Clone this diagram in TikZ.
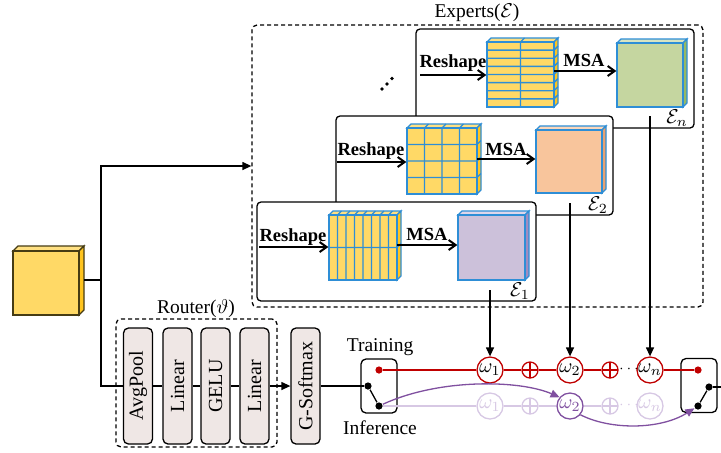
\documentclass[tikz,border=0pt]{standalone}
\usepackage{fontspec}
\setmainfont{Liberation Serif}
\usetikzlibrary{arrows.meta,fit,calc}
\definecolor{cyel}{RGB}{255,217,102}
\definecolor{cyelside}{RGB}{255,196,30}
\definecolor{cyeltop}{RGB}{255,224,130}
\definecolor{cblue}{RGB}{46,142,214}
\definecolor{cgreen}{RGB}{197,214,160}
\definecolor{cgreenside}{RGB}{150,185,100}
\definecolor{cgreentop}{RGB}{215,228,195}
\definecolor{corange}{RGB}{248,197,156}
\definecolor{corangeside}{RGB}{232,162,112}
\definecolor{corangetop}{RGB}{250,215,188}
\definecolor{cpurple}{RGB}{204,193,218}
\definecolor{cpurpleside}{RGB}{160,140,192}
\definecolor{cpurpletop}{RGB}{222,214,234}
\definecolor{cred}{RGB}{192,0,0}
\definecolor{cviolet}{RGB}{128,80,160}
\definecolor{cfade}{RGB}{215,200,228}
\definecolor{cbox}{RGB}{239,231,229}
\definecolor{cedge}{RGB}{70,60,20}
\newcommand\mycube[9]{%
  \filldraw[fill=#8] (#2,#3) -- (#2+#6,#3-#6) -- (#4+#6,#3-#6) -- (#4,#3) -- cycle;
  \filldraw[fill=#9] (#4,#3) -- (#4+#6,#3-#6) -- (#4+#6,#5-#6) -- (#4,#5) -- cycle;
  \filldraw[fill=#7] (#2,#3) rectangle (#4,#5);
  \coordinate (#1-tl) at (#2,#3); \coordinate (#1-br) at (#4,#5);
  \node[fit=(#1-tl)(#1-br),inner sep=0pt] (#1) {};
}
\begin{document}
\begin{tikzpicture}[x=0.5pt,y=-0.5pt,line width=0.65pt,
  every node/.style={font=\fontsize{9.75}{11.5}\selectfont},
  ebox/.style={draw,fill=white,rounded corners=2pt,inner sep=0pt},
  dbox/.style={draw,dash pattern=on 2pt off 1.5pt,rounded corners=2.5pt,inner sep=0pt},
  rbox/.style={draw,fill=cbox,rounded corners=2.5pt,rotate=90,minimum width=58pt,minimum height=14.5pt,inner sep=0pt,font=\fontsize{10}{12}\selectfont},
  barb/.style={line width=1pt,-{Straight Barb[length=3.5pt,width=5pt]}},
  tri/.style={-{Triangle[length=4.5pt,width=4pt]}},
  opt/.style={font=\fontsize{9.25}{11}\selectfont\bfseries,anchor=base,inner sep=0pt},
  elab/.style={font=\fontsize{10}{12}\selectfont,inner sep=0pt},
  wc/.style={circle,draw=#1,fill=white,minimum size=13pt,inner sep=0pt,text=black,font=\fontsize{10}{12}\selectfont},
  pc/.style={circle,draw=#1,minimum size=8pt,inner sep=0pt,path picture={\draw[#1] (path picture bounding box.north) -- (path picture bounding box.south) (path picture bounding box.west) -- (path picture bounding box.east);}},
  dotn/.style={circle,fill=#1,inner sep=0pt,minimum size=3.6pt},
  sw/.style={draw,rounded corners=2.5pt,minimum width=18pt,minimum height=27pt,inner sep=0pt},
  dts/.style={inner sep=0pt,font=\fontsize{7}{8}\selectfont}]
\useasboundingbox (0,0) rectangle (721,452);

% Experts container
\node[dbox,minimum width=225.5pt,minimum height=141pt] (experts) at (477.5,166) {};
\node (explab) at (477,13) {Experts($\mathcal{E}$)};

% Expert n
\node[ebox,minimum width=139pt,minimum height=49.5pt] (En) at (555,78.5) {};
\begin{scope}[draw=cblue]
\mycube{gN}{487}{42}{554}{107}{4}{cyel}{cyeltop}{cyelside}
\foreach \i in {1,...,7}{\draw (487,{42+\i*8.125}) -- (554,{42+\i*8.125}) -- ++(4,-4);}
\draw (524.5,38) -- (520.5,42) -- (520.5,107);
\mycube{cN}{617}{43}{683}{107}{4}{cgreen}{cgreentop}{cgreenside}
\end{scope}
\coordinate (rN) at (420,75);
\draw[barb] (rN) -- (gN.west |- rN);
\node[opt] (tRN) at (453,67) {Reshape};
\coordinate (mN) at (554,71);
\draw[barb] (mN) -- (cN.west |- mN);
\node[opt] (tMN) at (584,66) {MSA};
\fill (382,89) circle (0.95pt) (387,84) circle (0.9pt) (392,78.5) circle (0.9pt);

% Expert 2
\node[ebox,minimum width=138.5pt,minimum height=49.5pt] (E2) at (474.5,165.5) {};
\begin{scope}[draw=cblue]
\mycube{g2}{407}{128}{477}{194}{4}{cyel}{cyeltop}{cyelside}
\foreach \i in {1,2,3}{
  \draw ({407+\i*17.5+4},124) -- ({407+\i*17.5},128) -- ({407+\i*17.5},194);
  \draw (407,{128+\i*16.5}) -- (477,{128+\i*16.5}) -- ++(4,-4);}
\mycube{c2}{536}{130}{602}{193}{4}{corange}{corangetop}{corangeside}
\end{scope}
\coordinate (r2) at (337,162);
\draw[barb] (r2) -- (g2.west |- r2);
\node[opt] (tR2) at (371,155) {Reshape};
\coordinate (m2) at (477,159);
\draw[barb] (m2) -- (c2.west |- m2);
\node[opt] (tM2) at (506,155) {MSA};

% Expert 1
\node[ebox,minimum width=139.5pt,minimum height=49.5pt] (E1) at (396.5,251.5) {};
\begin{scope}[draw=cblue]
\mycube{g1}{329}{215}{397}{280}{4}{cyel}{cyeltop}{cyelside}
\foreach \i in {1,...,7}{
  \draw ({329+\i*8.5+4},211) -- ({329+\i*8.5},215) -- ({329+\i*8.5},280);}
\draw (329,247.5) -- (397,247.5) -- ++(4,-4);
\mycube{c1}{458}{215}{525}{280}{4}{cpurple}{cpurpletop}{cpurpleside}
\end{scope}
\coordinate (r1) at (259,247);
\draw[barb] (r1) -- (g1.west |- r1);
\node[opt] (tR1) at (293,241) {Reshape};
\coordinate (m1) at (397,245);
\draw[barb] (m1) -- (c1.west |- m1);
\node[opt] (tM1) at (427,240) {MSA};

\node[elab] (lN) at (677,118) {$\mathcal{E}_n$};
\node[elab] (l2) at (598,205) {$\mathcal{E}_2$};
\node[elab] (l1) at (520,291) {$\mathcal{E}_1$};

% Input cube
\begin{scope}[draw=cedge]
\mycube{in}{13}{251}{79}{315}{5}{cyel}{cyeltop}{cyelside}
\end{scope}
\coordinate (br) at (101,280);
\coordinate (inout) at (84,280);
\draw (inout) -- (br);
\draw[tri] (br) |- (experts.west);

% Router
\node[dbox,minimum width=80.5pt,minimum height=64pt] (router) at (196.5,383) {};
\node (rlab) at (196,309) {Router($\vartheta$)};
\node[rbox] (avg) at (138,386) {AvgPool};
\node[rbox] (lin1) at (177.5,386) {Linear};
\node[rbox] (gelu) at (215.5,386) {GELU};
\node[rbox] (lin2) at (254.5,386) {Linear};
\node[rbox] (gsm) at (305.5,386) {G-Softmax};
\draw (br) |- (avg);
\draw (avg) -- (lin1);
\draw (lin1) -- (gelu);
\draw (gelu) -- (lin2);
\draw[tri] (lin2) -- (gsm);

% Left switch
\node[sw] (swL) at (379,386) {};
\node (ttr) at (380,347) {Training};
\node (tinf) at (380,428) {Inference};
\node[dotn=cred] (rd1) at (379,370) {};
\node[dotn=black] (bd1) at (368,386) {};
\node[dotn=black] (bd2) at (379,406) {};
\draw (gsm) -- (bd1);
\draw (bd1) -- (bd2);

% Right switch
\node[sw] (swR) at (699,385.5) {};
\node[dotn=cred] (rd2) at (698,370) {};
\node[dotn=black] (bd3) at (698,406) {};
\node[dotn=black] (bd4) at (709,387) {};
\coordinate (outR) at (722,387);
\draw (bd3) -- (bd4);
\draw (bd4) -- (outR);

% Training row
\node[wc=cred] (w1) at (490,370) {$\omega_1$};
\node[pc=cred] (p1) at (530,370) {};
\node[wc=cred] (w2) at (570,370) {$\omega_2$};
\node[pc=cred] (p2) at (610,370) {};
\node[dts] (d1) at (629,369) {$\cdots$};
\node[wc=cred] (wn) at (650,370) {$\omega_n$};
\begin{scope}[draw=cred]
\draw (rd1) -- (w1);
\draw (w1) -- (p1);
\draw (p1) -- (w2);
\draw (w2) -- (p2);
\draw (wn) -- (rd2);
\end{scope}

% Inference row
\node[wc=cfade,text=cfade] (w1f) at (490,406) {$\omega_1$};
\node[pc=cfade] (p1f) at (530,406) {};
\node[wc=cviolet,text=cviolet] (w2v) at (570,406) {$\omega_2$};
\node[pc=cfade] (p2f) at (610,406) {};
\node[dts,text=cfade] (d2) at (629,405) {$\cdots$};
\node[wc=cfade,text=cfade] (wnf) at (650,406) {$\omega_n$};
\begin{scope}[draw=cfade]
\draw (bd2) -- (w1f);
\draw (w1f) -- (p1f);
\draw (p1f) -- (w2v);
\draw (w2v) -- (p2f);
\end{scope}
\draw[cviolet,-{Triangle[length=4.5pt,width=4pt]}] (bd2) .. controls (440,378) and (520,380) .. (w2v.140);
\draw[cviolet,-{Triangle[length=4.5pt,width=4pt]}] (w2v.-40) .. controls (610,430) and (660,430) .. (bd3);

% Expert outputs to weights
\coordinate (sN) at (650,116);
\coordinate (s2) at (570,203);
\coordinate (s1) at (490,290);
\draw[tri] (sN) -- (wn);
\draw[tri] (s2) -- (w2);
\draw[tri] (s1) -- (w1);
\end{tikzpicture}
\end{document}
